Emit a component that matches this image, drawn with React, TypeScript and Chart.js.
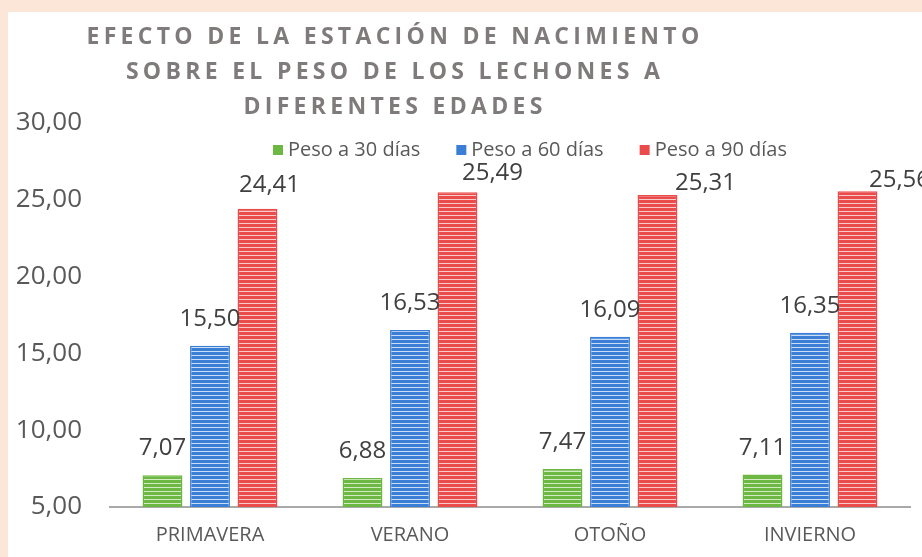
import React, { useEffect, useRef } from 'react';
import { Chart, registerables } from 'chart.js';

Chart.register(...registerables);

const categories = ['PRIMAVERA', 'VERANO', 'OTOÑO', 'INVIERNO'];
const peso30 = [7.07, 6.88, 7.47, 7.11];
const peso60 = [15.5, 16.53, 16.09, 16.35];
const peso90 = [24.41, 25.49, 25.31, 25.56];
const seriesNames = ['Peso a 30 días', 'Peso a 60 días', 'Peso a 90 días'];
const titleLines = [
  'EFECTO DE LA ESTACIÓN DE NACIMIENTO',
  'SOBRE EL PESO DE LOS LECHONES A',
  'DIFERENTES EDADES',
];
const yMin = 5;
const yMax = 30;
const yStep = 5;

// style: colours and label nudges (Excel labels of the 90-day series were moved by hand)
const baseColors = ['#6DB843', '#3A7ED6', '#EA4C4C'];
const lightColors = ['#D2EBC2', '#C9DDF5', '#F8CACA'];
const label90Nudge = [
  [12, 17],
  [35, 12],
  [48, 5],
  [42, 4],
];

const fmt = (v: number) => v.toFixed(2).replace('.', ',');

function stripe(ctx: CanvasRenderingContext2D, base: string, light: string) {
  const c = document.createElement('canvas');
  c.width = 4;
  c.height = 4;
  const g = c.getContext('2d')!;
  g.fillStyle = base;
  g.fillRect(0, 0, 4, 4);
  g.fillStyle = light;
  g.fillRect(0, 3, 4, 1);
  return ctx.createPattern(c, 'repeat') as CanvasPattern;
}

const decorPlugin = {
  id: 'decor',
  afterDraw(chart: any) {
    const ctx: CanvasRenderingContext2D = chart.ctx;
    ctx.save();
    // title
    ctx.fillStyle = '#7F7B7B';
    ctx.font = 'bold 23px "Open Sans"';
    ctx.textAlign = 'center';
    ctx.textBaseline = 'alphabetic';
    (ctx as any).letterSpacing = '4.3px';
    titleLines.forEach((t, i) => {
      ctx.fillText(t, 387, 32 + i * 35);
    });
    (ctx as any).letterSpacing = '0px';
    // legend
    ctx.font = '20px "Open Sans"';
    ctx.textAlign = 'left';
    let x = 265;
    seriesNames.forEach((name, i) => {
      ctx.fillStyle = baseColors[i];
      ctx.fillRect(x, 133, 10, 10);
      ctx.fillStyle = '#595959';
      ctx.fillText(name, x + 15, 144);
      x += 15 + ctx.measureText(name).width + 36;
    });
    // value labels
    ctx.font = '24px "Open Sans"';
    ctx.fillStyle = '#404040';
    ctx.textAlign = 'center';
    chart.data.datasets.forEach((ds: any, di: number) => {
      const meta = chart.getDatasetMeta(di);
      meta.data.forEach((el: any, i: number) => {
        const [dx, gap] = di === 2 ? label90Nudge[i] : [0, 20];
        ctx.fillText(fmt(ds.data[i]), el.x + dx, el.y - gap);
      });
    });
    ctx.restore();
  },
};

export default function App() {
  const ref = useRef<HTMLCanvasElement>(null);
  useEffect(() => {
    const canvas = ref.current!;
    const ctx = canvas.getContext('2d')!;
    const series = [peso30, peso60, peso90];
    const chart = new Chart(canvas, {
      type: 'bar',
      data: {
        labels: categories,
        datasets: series.map((d, i) => ({
          label: seriesNames[i],
          data: d,
          backgroundColor: stripe(ctx, baseColors[i], lightColors[i]),
          borderColor: baseColors[i],
          borderWidth: 1.5,
          categoryPercentage: 0.7125,
          barPercentage: 0.84,
        })),
      },
      options: {
        responsive: false,
        devicePixelRatio: 1,
        animation: false,
        layout: { padding: { top: 111, right: 12, left: 0, bottom: 0 } },
        plugins: {
          legend: { display: false },
          title: { display: false },
          tooltip: { enabled: false },
        },
        scales: {
          x: {
            grid: { display: true, drawOnChartArea: false, drawTicks: false, color: 'transparent' },
            border: { display: true, color: '#A9A9A9', width: 2 },
            ticks: {
              color: '#595959',
              font: { family: '"Open Sans"', size: 20 },
              padding: 16,
            },
            afterFit: (s: any) => {
              s.height = 50;
            },
          },
          y: {
            min: yMin,
            max: yMax,
            grid: { display: false, drawTicks: false },
            border: { display: false },
            ticks: {
              stepSize: yStep,
              color: '#595959',
              font: { family: '"Open Sans"', size: 26 },
              padding: 28,
              callback: (v: any) => fmt(Number(v)),
            },
            afterFit: (s: any) => {
              s.width = 102;
            },
          },
        },
      },
      plugins: [decorPlugin],
    });
    return () => chart.destroy();
  }, []);

  return (
    <div
      style={{
        position: 'absolute',
        left: 0,
        top: 0,
        width: 922,
        height: 557,
        background: '#FBE6D7',
        overflow: 'hidden',
      }}
    >
      <canvas
        ref={ref}
        width={914}
        height={545}
        style={{ position: 'absolute', left: 8, top: 12, width: 914, height: 545, background: '#FFFFFF', display: 'block' }}
      />
    </div>
  );
}
